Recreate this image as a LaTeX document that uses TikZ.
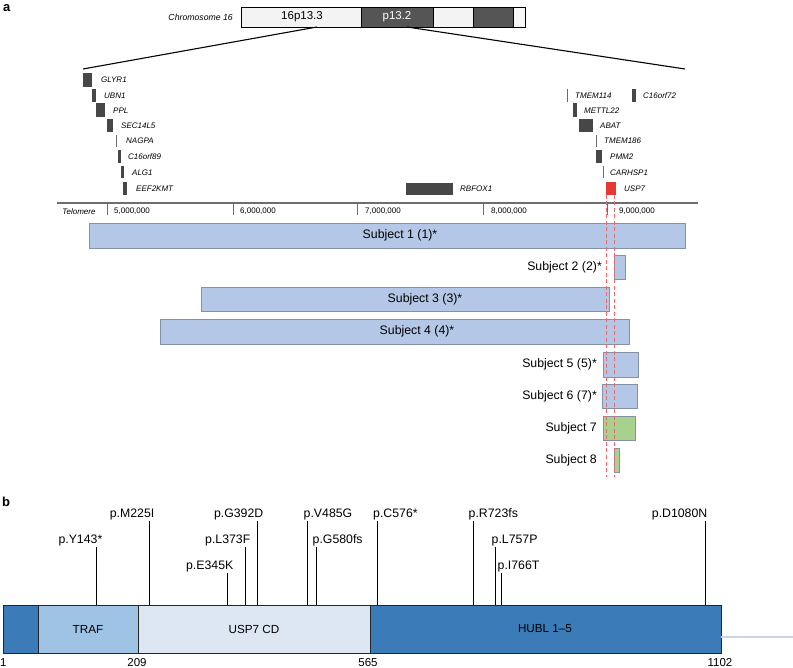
\documentclass[tikz,border=0pt]{standalone}
\usepackage{fontspec}
\setmainfont{Liberation Sans}
\usetikzlibrary{fit}
\definecolor{genegray}{HTML}{474747}
\definecolor{banddark}{HTML}{555555}
\definecolor{bandlight}{HTML}{F3F3F3}
\definecolor{subjblue}{HTML}{B4C7E7}
\definecolor{subjgreen}{HTML}{A9D18E}
\definecolor{subjedge}{HTML}{8592A6}
\definecolor{uspred}{HTML}{E53935}
\definecolor{dashred}{HTML}{E86A6A}
\definecolor{axisgray}{HTML}{6E6E6E}
\definecolor{hubl}{HTML}{3A7BB8}
\definecolor{traf}{HTML}{9FC3E5}
\definecolor{uspcd}{HTML}{DCE7F3}
\definecolor{tailblue}{HTML}{C6D6EC}
\begin{document}
\begin{tikzpicture}[x=1pt,y=-1pt,
  boxn/.style={inner sep=0pt,outer sep=0pt},
  gene/.style={boxn,fill=genegray},
  genelab/.style={font=\fontsize{8}{9}\selectfont\itshape,anchor=west,inner sep=0pt},
  axlab/.style={font=\fontsize{8}{9}\selectfont,anchor=west,inner sep=0pt},
  band/.style={boxn,draw=black,line width=0.8pt},
  zoomline/.style={line width=1.1pt,black},
  subj/.style={boxn,draw=subjedge,fill=subjblue,line width=0.8pt},
  subjg/.style={boxn,draw=subjedge,fill=subjgreen,line width=0.8pt},
  subjlab/.style={font=\fontsize{12.3}{14}\selectfont,inner sep=0pt},
  dashln/.style={dashred,dashed,line width=1pt,dash pattern=on 4pt off 2.5pt},
  dom/.style={boxn,draw=black!85,line width=0.8pt},
  domlab/.style={font=\fontsize{11.7}{13}\selectfont,inner sep=0pt},
  mutlab/.style={font=\fontsize{12.3}{14}\selectfont,inner sep=0pt},
  stem/.style={line width=0.9pt,black},
  numlab/.style={font=\fontsize{11.5}{13}\selectfont,inner sep=0pt},
  panel/.style={font=\fontsize{13}{15}\selectfont\bfseries,inner sep=0pt}
]
\useasboundingbox (0,0) rectangle (793,668);

% panel labels
\node[panel,anchor=north west] (pa) at (3,4) {a};
\node[panel,anchor=north west] (pb) at (2,497) {b};

% chromosome
\node[band,fill=bandlight,fit={(241,7) (361,27)}] (c1) {};
\node[band,fill=banddark,fit={(361,7) (433,27)}] (c2) {};
\node[band,fill=bandlight,fit={(433,7) (473,27)}] (c3) {};
\node[band,fill=banddark,fit={(473,7) (513,27)}] (c4) {};
\node[band,fill=bandlight!70!white,fit={(513,7) (525,27)}] (c5) {};
\node[font=\fontsize{11.5}{13}\selectfont,inner sep=0pt] (c1t) at (302,17) {16p13.3};
\node[font=\fontsize{11.5}{13}\selectfont,inner sep=0pt,text=white] (c2t) at (397,17) {p13.2};
\node[font=\fontsize{8.7}{10}\selectfont\itshape,anchor=east,inner sep=0pt] (chrlab) at (233,17) {Chromosome 16};

% zoom lines
\coordinate (zla) at (317,27);
\coordinate (zlb) at (83,69);
\coordinate (zra) at (407,27);
\coordinate (zrb) at (685,69);
\draw[zoomline] (zla) -- (zlb);
\draw[zoomline] (zra) -- (zrb);

% genes left
\node[gene,fit={(83,73) (92,87)}] (g1) {};
\node[genelab] (g1l) at (101,80) {GLYR1};
\node[gene,fit={(92,89) (96,102)}] (g2) {};
\node[genelab] (g2l) at (104,95.5) {UBN1};
\node[gene,fit={(96,103) (105,117)}] (g3) {};
\node[genelab] (g3l) at (113,110.5) {PPL};
\node[gene,fit={(107,119) (113,132)}] (g4) {};
\node[genelab] (g4l) at (121,125.5) {SEC14L5};
\node[gene,fit={(115.6,135) (116.6,147)},fill=genegray!80] (g5) {};
\node[genelab] (g5l) at (126,141) {NAGPA};
\node[gene,fit={(118,150) (121,163)}] (g6) {};
\node[genelab] (g6l) at (128,157) {C16orf89};
\node[gene,fit={(121,166) (124,178)}] (g7) {};
\node[genelab] (g7l) at (132,172.5) {ALG1};
\node[gene,fit={(123,182) (127,195)}] (g8) {};
\node[genelab] (g8l) at (136,188.5) {EEF2KMT};
% RBFOX1
\node[gene,fit={(406,183) (453,195)}] (g9) {};
\node[genelab] (g9l) at (460,188.5) {RBFOX1};
% genes right
\node[gene,fit={(566.5,89) (567.5,102)},fill=genegray!80] (h1) {};
\node[genelab] (h1l) at (575,95.5) {TMEM114};
\node[gene,fit={(632,89) (636,102)}] (h2) {};
\node[genelab] (h2l) at (643,95.5) {C16orf72};
\node[gene,fit={(573,103) (577,117)}] (h3) {};
\node[genelab] (h3l) at (584,110.5) {METTL22};
\node[gene,fit={(579,119) (593,132)}] (h4) {};
\node[genelab] (h4l) at (600,125.5) {ABAT};
\node[gene,fit={(595.5,135) (596.5,147)},fill=genegray!80] (h5) {};
\node[genelab] (h5l) at (604,141) {TMEM186};
\node[gene,fit={(596,150) (602,163)}] (h6) {};
\node[genelab] (h6l) at (610,157) {PMM2};
\node[gene,fit={(602.5,166) (603.5,178)},fill=genegray!80] (h7) {};
\node[genelab] (h7l) at (610,172.5) {CARHSP1};
\node[boxn,fill=uspred,fit={(606,182) (616,195)}] (usp) {};
\node[genelab] (uspl) at (624,188.5) {USP7};

% axis
\coordinate (axl) at (57,203);
\coordinate (axr) at (698,203);
\draw[axisgray,line width=1.2pt] (axl) -- (axr);
\foreach \n/\x/\lx/\t in {t5/107/114/{5,000,000},t6/233/240/{6,000,000},t7/357/365/{7,000,000},t8/483/491/{8,000,000},t9/607.5/619/{9,000,000}}{
  \coordinate (\n a) at (\x,203);
  \coordinate (\n b) at (\x,215);
  \draw[axisgray,line width=1pt] (\n a) -- (\n b);
  \node[axlab] (\n l) at (\lx,211.5) {\t};
}
\node[genelab,anchor=center] (telo) at (79,211.5) {Telomere};

% subjects
\node[subj,fit={(89,223) (685,248)}] (s1) {};
\node[subjlab] (s1l) at (400,235.5) {Subject 1 (1)*};
\node[subj,fit={(614,255) (625,279)}] (s2) {};
\node[subjlab,anchor=east] (s2l) at (602,267) {Subject 2 (2)*};
\node[subj,fit={(201,287) (609,311)}] (s3) {};
\node[subjlab] (s3l) at (425,299) {Subject 3 (3)*};
\node[subj,fit={(160,319) (629,344)}] (s4) {};
\node[subjlab] (s4l) at (417,331) {Subject 4 (4)*};
\node[subj,fit={(603,352) (638,377)}] (s5) {};
\node[subjlab,anchor=east] (s5l) at (597,364.5) {Subject 5 (5)*};
\node[subj,fit={(602,384) (637,408)}] (s6) {};
\node[subjlab,anchor=east] (s6l) at (597,396.5) {Subject 6 (7)*};
\node[subjg,fit={(603,416) (635,440)}] (s7) {};
\node[subjlab,anchor=east] (s7l) at (597,428.5) {Subject 7};
\node[subjg,fit={(614,448) (619,472)}] (s8) {};
\node[subjlab,anchor=east] (s8l) at (597,460.5) {Subject 8};

% dashed USP7 lines
\coordinate (d1b) at (606,477);
\coordinate (d2b) at (614.5,477);
\draw[dashln] (usp.south west) -- (d1b);
\draw[dashln] (usp.south east -| d2b) -- (d2b);

% panel b protein
\coordinate (tailb) at (793,637);
\node[dom,fill=hubl,fit={(3,605) (38,653)}] (nterm) {};
\node[dom,fill=traf,fit={(38,605) (138,653)}] (trafd) {};
\node[dom,fill=uspcd,fit={(138,605) (370,653)}] (cdd) {};
\node[dom,fill=hubl,fit={(370,605) (721,653)}] (hubld) {};
\draw[tailblue,line width=1.3pt] (hubld.east |- tailb) -- (tailb);
\node[domlab] (trafl) at (88,629) {TRAF};
\node[domlab] (cdl) at (254,629) {USP7 CD};
\node[domlab] (hubll) at (545,629) {HUBL 1--5};
\node[numlab,anchor=west] (n1) at (0,663) {1};
\node[numlab] (n209) at (137,663) {209};
\node[numlab] (n565) at (368,663) {565};
\node[numlab] (n1102) at (720,663) {1102};

% mutations
\foreach \n/\x/\t/\anc/\lx/\txt in {
  m1/96/547/base east/102.5/{p.Y143*},
  m2/149/521/base east/154.5/{p.M225I},
  m3/227/573/base east/233.5/{p.E345K},
  m4/245/547/base east/250.5/{p.L373F},
  m5/257/521/base east/263.5/{p.G392D},
  m6/307/521/base west/303.5/{p.V485G},
  m7/316/547/base west/312.5/{p.G580fs},
  m8/377/521/base west/373/{p.C576*},
  m9/473/521/base west/468.5/{p.R723fs},
  m10/495/547/base west/491.5/{p.L757P},
  m11/501/573/base west/497.5/{p.I766T},
  m12/705/521/base east/707.5/{p.D1080N}}{
  \coordinate (\n b) at (\x,605);
  \coordinate (\n t) at (\x,\t);
  \draw[stem] (\n b) -- (\n t);
  \node[mutlab,anchor=\anc] (\n l) at (\lx,\t-3.5) {\txt};
}
\end{tikzpicture}
\end{document}
